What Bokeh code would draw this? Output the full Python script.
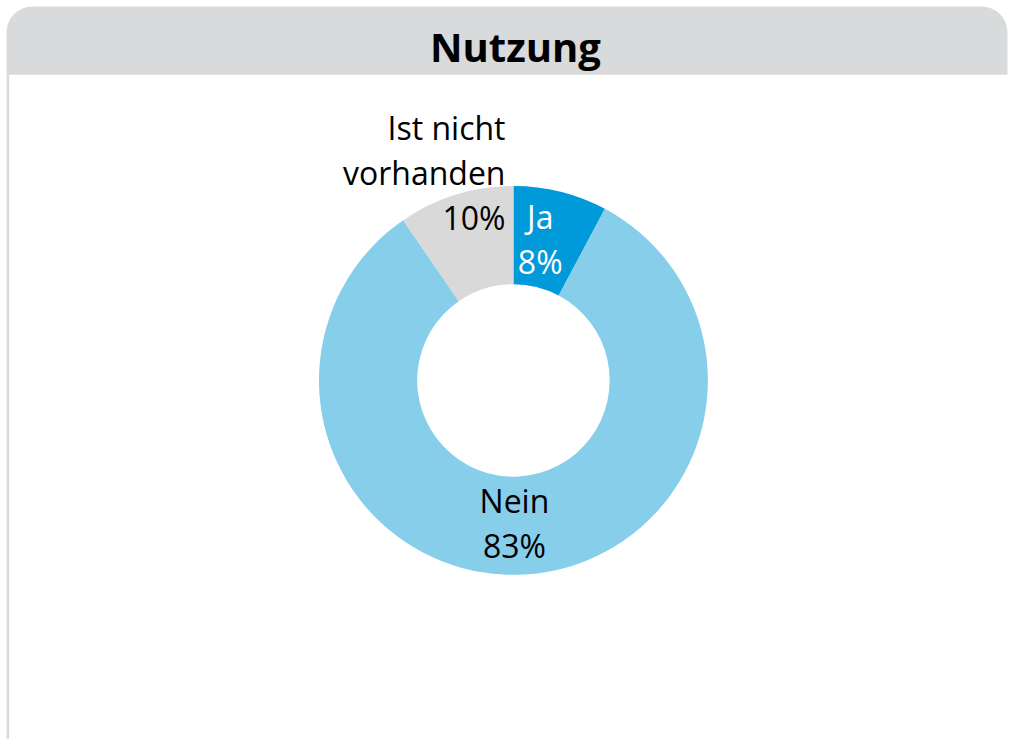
from math import pi
from bokeh.plotting import figure
from bokeh.models import Range1d, BoxAnnotation, ColumnDataSource
from bokeh.core.properties import value
from bokeh.embed import file_html
from bokeh.resources import INLINE

# ---- data ----
title = "Nutzung"
categories = ["Ja", "Nein", "Ist nicht vorhanden"]
shares = [7.8, 82.6, 9.6]          # percent
colors = ["#0099DA", "#87CEEB", "#D9D9D9"]
label_lines = [["Ja", "8%"], ["Nein", "83%"], ["Ist nicht", "vorhanden", "10%"]]
label_colors = ["white", "black", "black"]

W, H = 1009, 739
def sy(y):              # reference screen y -> data y
    return 747 - y

p = figure(width=W, height=H, output_backend="svg", toolbar_location=None,
           x_range=Range1d(0, 1017), y_range=Range1d(0, 747),
           min_border=0, outline_line_color=None, background_fill_color="white")
p.axis.visible = False
p.grid.visible = False

# header band
p.add_layout(BoxAnnotation(left=6, right=1015, top=sy(6), bottom=sy(75),
                           fill_color="#D9DADB", fill_alpha=1, line_color=None,
                           border_radius=(26, 26, 0, 0), level="underlay"))
# left frame line
p.segment(x0=[7.5], y0=[sy(75)], x1=[7.5], y1=[sy(747)], line_color="#D9DADB", line_width=2.5)

p.text(x=[519], y=[sy(46)], text=[title], text_font=value("Open Sans"),
       text_font_style="bold", text_font_size="40px", text_align="center",
       text_baseline="middle", text_color="black")

# donut
cx, cy = 517, sy(384)
r_out, r_in = 196, 97
starts, ends = [], []
acc = 0.0
tot = sum(shares)
for s in shares:
    a0 = pi / 2 - 2 * pi * acc / tot
    acc += s
    a1 = pi / 2 - 2 * pi * acc / tot
    starts.append(a1)
    ends.append(a0)
src = ColumnDataSource(dict(start=starts, end=ends, color=colors, cat=categories))
p.annular_wedge(x=cx, y=cy, inner_radius=r_in, outer_radius=r_out,
                start_angle="start", end_angle="end", fill_color="color",
                line_color=None, source=src)

# labels (first-line visual centre anchor, alignment)
anchors = [(544, 218, "center"), (518, 505, "center"), (509, 128, "right")]
line_gap = 45.5
xs, ys, ts, cs, als = [], [], [], [], []
for lines, col, (ax, ay, al) in zip(label_lines, label_colors, anchors):
    for i, t in enumerate(lines):
        xs.append(ax)
        ys.append(sy(ay + i * line_gap))
        ts.append(t)
        cs.append(col)
        als.append(al)
lsrc = ColumnDataSource(dict(x=xs, y=ys, text=ts, color=cs, align=als))
p.text(x="x", y="y", text="text", text_color="color", text_align="align",
       text_baseline="middle", text_font=value("Open Sans"),
       text_font_size="32px", source=lsrc)

open("out.html", "w").write(file_html(p, INLINE))
